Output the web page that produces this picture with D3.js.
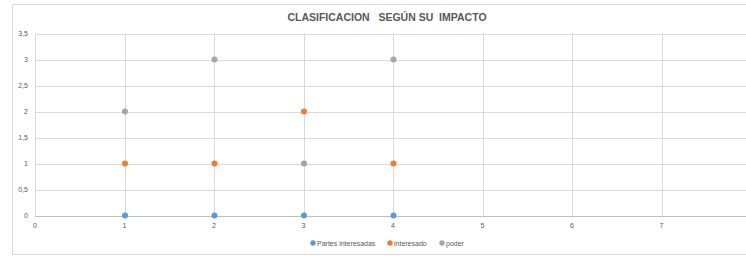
<!DOCTYPE html>
<html>
<head>
<meta charset="utf-8">
<script src="https://cdn.jsdelivr.net/npm/d3@7"></script>
<style>
  body { margin: 0; background: #fff; }
  text { font-family: "Liberation Sans", Arial, sans-serif; }
</style>
</head>
<body>
<div id="chart"></div>
<script>
// Data
const xValues = [1, 2, 3, 4]
const partesInteresadas = [0, 0, 0, 0]
const interesado = [1, 1, 2, 1]
const poder = [2, 3, 1, 3]
const seriesNames = ["Partes interesadas", "interesado", "poder"]
const seriesColors = ["#5B9BD5", "#ED7D31", "#A5A5A5"]
const yTicks = [0, 0.5, 1, 1.5, 2, 2.5, 3, 3.5]
const xTicks = [0, 1, 2, 3, 4, 5, 6, 7]
const title = "CLASIFICACION   SEGÚN SU  IMPACTO"

// Dimensions
const width = 746
const height = 256
const plotLeft = 35
const plotTop = 33.5
const plotBottom = 215.5
const xStep = 89.5
const pointRadius = 3

const svg = d3.select("#chart")
  .append("svg")
    .attr("width", width)
    .attr("height", height)

// outer chart frame
svg.append("rect")
  .attr("x", 12.5)
  .attr("y", 4.5)
  .attr("width", 760)
  .attr("height", 250)
  .attr("fill", "#fff")
  .attr("stroke", "#d9d9d9")

const x = d3.scaleLinear().domain([0, 8]).range([plotLeft, plotLeft + 8 * xStep])
const y = d3.scaleLinear().domain([0, 3.5]).range([plotBottom, plotTop])

// gridlines
svg.selectAll(".hgrid")
  .data(yTicks.filter(function(d) { return d > 0 }))
  .enter().append("line")
  .attr("x1", plotLeft)
  .attr("x2", width)
  .attr("y1", function(d) { return Math.round(y(d)) + 0.5 })
  .attr("y2", function(d) { return Math.round(y(d)) + 0.5 })
  .attr("stroke", "#d9d9d9")

svg.selectAll(".vgrid")
  .data(xTicks)
  .enter().append("line")
  .attr("x1", function(d) { return Math.round(x(d)) + 0.5 })
  .attr("x2", function(d) { return Math.round(x(d)) + 0.5 })
  .attr("y1", plotTop)
  .attr("y2", plotBottom)
  .attr("stroke", "#d9d9d9")

// x axis line
svg.append("line")
  .attr("x1", plotLeft)
  .attr("x2", width)
  .attr("y1", Math.round(y(0)) + 0.5)
  .attr("y2", Math.round(y(0)) + 0.5)
  .attr("stroke", "#bfbfbf")

// tick labels
svg.selectAll(".ylab")
  .data(yTicks)
  .enter().append("text")
  .attr("x", 28)
  .attr("y", function(d) { return y(d) + 2.5 })
  .attr("text-anchor", "end")
  .attr("fill", "#595959")
  .style("font-size", "7px")
  .text(function(d) { return String(d).replace(".", ",") })

svg.selectAll(".xlab")
  .data(xTicks)
  .enter().append("text")
  .attr("x", function(d) { return x(d) })
  .attr("y", 228)
  .attr("text-anchor", "middle")
  .attr("fill", "#595959")
  .style("font-size", "7px")
  .text(function(d) { return d })

// points
const allSeries = [partesInteresadas, interesado, poder]
allSeries.forEach(function(vals, s) {
  svg.selectAll(".pt" + s)
    .data(vals)
    .enter().append("circle")
    .attr("cx", function(d, i) { return x(xValues[i]) + 0.5 })
    .attr("cy", function(d) { return y(d) })
    .attr("r", pointRadius)
    .attr("fill", seriesColors[s])
})

// title
svg.append("text")
  .attr("x", 387)
  .attr("y", 21)
  .attr("text-anchor", "middle")
  .attr("fill", "#595959")
  .style("font-size", "10.5px")
  .style("font-weight", "bold")
  .style("white-space", "pre")
  .text(title)

// legend
const legendX = [313, 390, 442]
const legend = svg.selectAll(".legend")
  .data(seriesNames)
  .enter().append("g")
  .attr("transform", function(d, i) { return "translate(" + legendX[i] + ",243)" })

legend.append("circle")
  .attr("r", 2.7)
  .attr("fill", function(d, i) { return seriesColors[i] })

legend.append("text")
  .attr("x", 4)
  .attr("y", 2.5)
  .attr("fill", "#595959")
  .style("font-size", "7px")
  .text(function(d) { return d })
</script>
</body>
</html>
